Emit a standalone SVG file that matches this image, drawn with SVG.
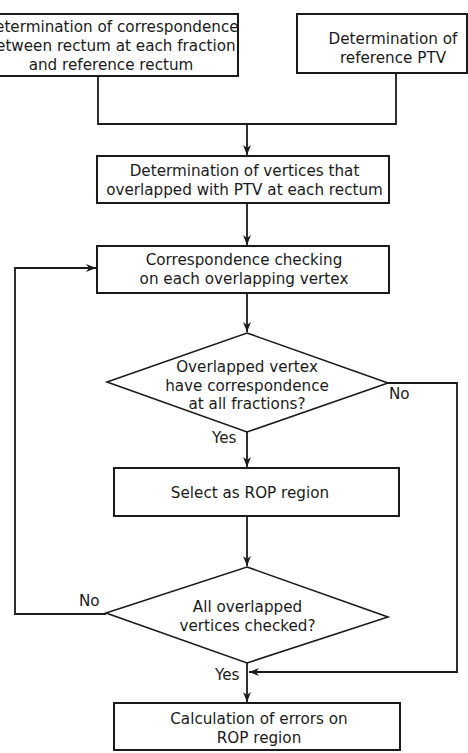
<svg xmlns="http://www.w3.org/2000/svg" width="468" height="753" viewBox="0 0 468 753">
<style>
.box{fill:#fff;stroke:#1a1a1a;stroke-width:2}
.dia{fill:#fff;stroke:#1a1a1a;stroke-width:1.6}
.con{fill:none;stroke:#1a1a1a;stroke-width:1.8}
text{font-family:"DejaVu Sans",Verdana,sans-serif;font-size:15.2px;fill:#1a1a1a;text-anchor:middle}
.lbl{text-anchor:start}
</style>
<defs>
<marker id="arr" viewBox="0 0 10 8" refX="10" refY="4" markerWidth="10" markerHeight="8" markerUnits="userSpaceOnUse" orient="auto">
<path d="M0,0 L10,4 L0,8 L3,4 Z" fill="#1a1a1a"/>
</marker>
</defs>
<g id="connectors">
<path class="con" d="M98,76 V124 H396 V73"/>
<path class="con" d="M247,124 V155" marker-end="url(#arr)"/>
<path class="con" d="M247,203 V245" marker-end="url(#arr)"/>
<path class="con" d="M247,293 V332" marker-end="url(#arr)"/>
<path class="con" d="M247,432 V467" marker-end="url(#arr)"/>
<path class="con" d="M247,516 V566" marker-end="url(#arr)"/>
<path class="con" d="M247,663 V702" marker-end="url(#arr)"/>
<path class="con" d="M388,383 H457 V672 H249" marker-end="url(#arr)"/>
<path class="con" d="M106,614 H15 V268 H96" marker-end="url(#arr)"/>
</g>
<g id="n1">
<rect class="box" x="-16" y="14" width="254" height="62"/>
<text x="111" y="31.5">Determination of correspondence</text>
<text x="111" y="50.5">between rectum at each fraction</text>
<text x="111" y="69.5">and reference rectum</text>
</g>
<g id="n2">
<rect class="box" x="297" y="14" width="170" height="59"/>
<text x="393" y="43.5">Determination of</text>
<text x="393" y="62.5">reference PTV</text>
</g>
<g id="n3">
<rect class="box" x="97" y="156" width="292" height="47"/>
<text x="244.5" y="175.5">Determination of vertices that</text>
<text x="244.5" y="194.5">overlapped with PTV at each rectum</text>
</g>
<g id="n4">
<rect class="box" x="97" y="246" width="292" height="47"/>
<text x="244" y="264.5">Correspondence checking</text>
<text x="244" y="283.5">on each overlapping vertex</text>
</g>
<g id="n5">
<polygon class="dia" points="247,333 388,383 247,432 107,382"/>
<text x="247" y="371.5">Overlapped vertex</text>
<text x="247" y="390.5">have correspondence</text>
<text x="247" y="408.5">at all fractions?</text>
</g>
<g id="n6">
<rect class="box" x="114" y="468" width="285" height="48"/>
<text x="250" y="497.5">Select as ROP region</text>
</g>
<g id="n7">
<polygon class="dia" points="247,567 388,617 247,663 106,613"/>
<text x="247.5" y="611.5">All overlapped</text>
<text x="247.5" y="630.5">vertices checked?</text>
</g>
<g id="n8">
<rect class="box" x="114" y="703" width="286" height="47"/>
<text x="259" y="723.5">Calculation of errors on</text>
<text x="259" y="742.5">ROP region</text>
</g>
<g id="labels">
<text class="lbl" x="389" y="398.5">No</text>
<text class="lbl" x="212" y="442.5">Yes</text>
<text class="lbl" x="79" y="605.5">No</text>
<text class="lbl" x="215" y="679.5">Yes</text>
</g>
</svg>
